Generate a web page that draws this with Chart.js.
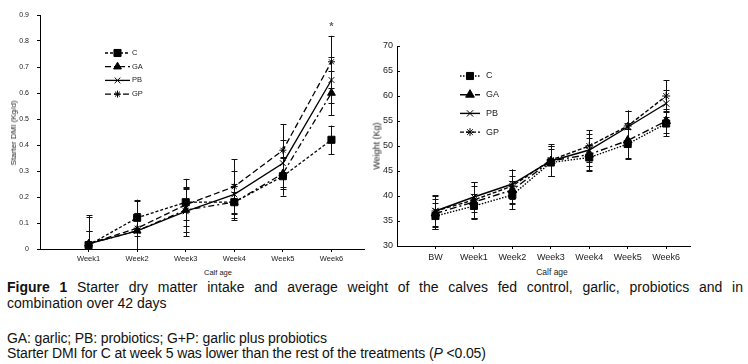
<!DOCTYPE html>
<html>
<head>
<meta charset="utf-8">
<script src="https://cdn.jsdelivr.net/npm/chart.js@4.4.1/dist/chart.umd.min.js"></script>
<style>
  body { margin: 0; background: #fff; width: 748px; height: 364px; overflow: hidden; position: relative;
         font-family: "Liberation Sans", Arial, sans-serif; color: #000; }
  canvas { position: absolute; top: 0; }
  #leftChart { left: 0; }
  #rightChart { left: 370px; }
  .axt { position: absolute; white-space: nowrap; color: #222; line-height: 1; }
  .rot { transform: translate(-50%, -50%) rotate(-90deg); }
  .hor { transform: translate(-50%, -50%); }
  .cap { position: absolute; left: 7px; width: 736px; font-size: 14px; white-space: nowrap; color: #111; }
  #cap1 { top: 279px; line-height: 16px; text-align: justify; text-align-last: justify; white-space: normal; }
  #cap2 { top: 295px; line-height: 16px; }
  #cap3 { top: 331px; line-height: 15px; letter-spacing: -0.12px; }
  #cap4 { top: 346px; line-height: 15px; letter-spacing: -0.12px; }
</style>
</head>
<body>
<canvas id="leftChart" width="370" height="262"></canvas>
<canvas id="rightChart" width="378" height="262"></canvas>

<div class="axt rot" style="left:14px; top:133px; font-size:8px;">Starter DMI (Kg/d)</div>
<div class="axt hor" style="left:218px; top:273px; font-size:7.5px;">Calf age</div>
<div class="axt rot" style="left:377px; top:146px; font-size:9px;">Weight (Kg)</div>
<div class="axt hor" style="left:552px; top:272px; font-size:8.5px;">Calf age</div>

<div class="cap" id="cap1"><b>Figure 1</b> Starter dry matter intake and average weight of the calves fed control, garlic, probiotics and in</div>
<div class="cap" id="cap2">combination over 42 days</div>
<div class="cap" id="cap3">GA: garlic; PB: probiotics; G+P: garlic plus probiotics</div>
<div class="cap" id="cap4">Starter DMI for C at week 5 was lower than the rest of the treatments (<i>P</i> &lt;0.05)</div>

<script>
// ---- data ----
const seriesNames = ['C', 'GA', 'PB', 'GP'];

// starter DMI (kg/d)
const dmiWeeks = ['Week1', 'Week2', 'Week3', 'Week4', 'Week5', 'Week6'];
const dmiC  = [0.015, 0.12, 0.18, 0.18, 0.28, 0.42];
const dmiGA = [0.02, 0.07, 0.15, 0.18, 0.29, 0.60];
const dmiPB = [0.02, 0.07, 0.145, 0.21, 0.33, 0.65];
const dmiGP = [0.02, 0.08, 0.17, 0.24, 0.38, 0.72];
const dmiErrC  = [0.055, 0.07, 0.09, 0.07, 0.075, 0.055];
const dmiErrGA = [0.105, 0.07, 0.085, 0.04, 0.06, 0.085];
const dmiErrPB = [0.05, 0.07, 0.095, 0.09, 0.09, 0.09];
const dmiErrGP = [0.11, 0.105, 0.06, 0.105, 0.1, 0.1];
const dmiTicks = [0, 0.1, 0.2, 0.3, 0.4, 0.5, 0.6, 0.7, 0.8, 0.9];
const dmiStar = { week: 6, value: 0.86, text: '*' };

// body weight (kg)
const wtWeeks = ['BW', 'Week1', 'Week2', 'Week3', 'Week4', 'Week5', 'Week6'];
const wtC  = [36, 38, 40.2, 46.7, 47.7, 50.4, 54.5];
const wtGA = [36.5, 38.8, 41.2, 47, 48.3, 51.1, 55];
const wtPB = [37, 39.8, 42.4, 47, 49.2, 53.8, 58.5];
const wtGP = [37, 39.2, 42, 47.2, 50, 54, 60];
const wtErrC  = [2.6, 2.5, 2.8, 2.7, 2.5, 3, 2.5];
const wtErrGA = [3, 3.2, 2.7, 3, 3.3, 3.5, 2.4];
const wtErrPB = [3.2, 3, 2.9, 3, 3.2, 3.3, 2.8];
const wtErrGP = [3, 3.6, 3.3, 3.2, 3.2, 3.1, 3.2];
const wtTicks = [30, 35, 40, 45, 50, 55, 60, 65, 70];

// ---- drawing helpers ----
const extras = {
  id: 'extras',
  beforeDatasetsDraw(chart, args, o) {
    const ctx = chart.ctx, xs = chart.scales.x, ys = chart.scales.y, a = chart.chartArea;
    ctx.save();
    ctx.beginPath();
    ctx.rect(a.left, a.top - 20, a.right - a.left, a.bottom - a.top + 20);
    ctx.clip();
    ctx.strokeStyle = '#111';
    ctx.lineWidth = 1;
    chart.data.datasets.forEach(ds => {
      ds.err.forEach((e, i) => {
        const v = ds.data[i].y;
        const x = Math.round(xs.getPixelForValue(ds.data[i].x)) + 0.5;
        const y1 = ys.getPixelForValue(v + e), y2 = ys.getPixelForValue(v - e);
        ctx.beginPath();
        ctx.moveTo(x, y1); ctx.lineTo(x, y2);
        ctx.moveTo(x - o.cap, Math.round(y1) + 0.5); ctx.lineTo(x + o.cap, Math.round(y1) + 0.5);
        ctx.moveTo(x - o.cap, Math.round(y2) + 0.5); ctx.lineTo(x + o.cap, Math.round(y2) + 0.5);
        ctx.stroke();
      });
    });
    ctx.restore();
    // inner tick marks on y axis
    if (o.innerTicks) {
      ctx.save();
      ctx.strokeStyle = '#000';
      ctx.lineWidth = 1;
      ys.ticks.forEach(t => {
        const y = Math.round(ys.getPixelForValue(t.value)) + 0.5;
        ctx.beginPath(); ctx.moveTo(a.left, y); ctx.lineTo(a.left + 3, y); ctx.stroke();
      });
      ctx.restore();
    }
  },
  afterDraw(chart, args, o) {
    const ctx = chart.ctx, L = o.legend;
    ctx.save();
    chart.data.datasets.forEach((ds, i) => {
      const y = L.y + i * L.gap;
      ctx.strokeStyle = '#000';
      ctx.fillStyle = '#000';
      ctx.lineWidth = ds.borderWidth;
      ctx.setLineDash(ds.borderDash || []);
      ctx.beginPath(); ctx.moveTo(L.x1, y); ctx.lineTo(L.x2, y); ctx.stroke();
      ctx.setLineDash([]);
      ctx.lineWidth = 1;
      Chart.helpers.drawPoint(ctx, { pointStyle: ds.pointStyle, radius: ds.pointRadius, rotation: 0, borderWidth: 1 },
        (L.x1 + L.x2) / 2, y);
      ctx.font = L.font + 'px "Liberation Sans", Arial, sans-serif';
      ctx.textBaseline = 'middle';
      ctx.fillStyle = '#222';
      ctx.fillText(ds.label, L.tx, y);
    });
    if (o.star) {
      const xs = chart.scales.x, ys = chart.scales.y;
      ctx.font = 'bold 11px "Liberation Sans", Arial, sans-serif';
      ctx.fillStyle = '#666';
      ctx.textAlign = 'center';
      ctx.textBaseline = 'middle';
      ctx.fillText(o.star.text, xs.getPixelForValue(o.star.week), ys.getPixelForValue(o.star.value) + 2);
    }
    ctx.restore();
  }
};

function makeDataset(label, vals, err, style) {
  return Object.assign({
    label: label,
    data: vals.map((v, i) => ({ x: i + 1, y: v })),
    err: err,
    borderColor: '#000',
    backgroundColor: '#000',
    pointBackgroundColor: '#000',
    pointBorderColor: '#000',
    pointBorderWidth: 1,
    fill: false,
    tension: 0
  }, style);
}

function makeChart(id, labels, datasets, y, layout, extra) {
  return new Chart(document.getElementById(id), {
    type: 'line',
    data: { datasets: datasets },
    options: {
      responsive: false,
      animation: false,
      layout: { padding: layout.padding },
      plugins: { legend: { display: false }, tooltip: { enabled: false }, extras: extra },
      scales: {
        x: {
          type: 'linear', min: 0, max: layout.xmax,
          afterBuildTicks: s => { s.ticks = labels.map((_, i) => ({ value: i + 1 })); },
          afterFit: s => { s.height = layout.xh; },
          ticks: { callback: v => labels[v - 1], autoSkip: false, maxRotation: 0, color: '#222',
                   font: { size: layout.xfont, family: '"Liberation Sans", Arial, sans-serif' }, padding: layout.xpad },
          grid: { drawOnChartArea: false, tickLength: 3, color: '#000' },
          border: { color: '#000', width: 1 }
        },
        y: {
          min: y.ticks[0], max: y.ticks[y.ticks.length - 1],
          afterBuildTicks: s => { s.ticks = y.ticks.map(v => ({ value: v })); },
          afterFit: s => { s.width = layout.yw; },
          ticks: { callback: v => String(v), color: '#222',
                   font: { size: layout.yfont, family: '"Liberation Sans", Arial, sans-serif' }, padding: layout.ypad },
          grid: { drawOnChartArea: false, tickLength: layout.ytick, color: '#000' },
          border: { color: '#000', width: 1 }
        }
      }
    },
    plugins: [extras]
  });
}

makeChart('leftChart', dmiWeeks, [
  makeDataset('C', dmiC, dmiErrC, { borderWidth: 1.3, borderDash: [3, 2], pointStyle: 'rect', pointRadius: 5 }),
  makeDataset('GA', dmiGA, dmiErrGA, { borderWidth: 1.3, borderDash: [6, 3, 2, 3], pointStyle: 'triangle', pointRadius: 4.5 }),
  makeDataset('PB', dmiPB, dmiErrPB, { borderWidth: 1.3, pointStyle: 'crossRot', pointRadius: 4 }),
  makeDataset('GP', dmiGP, dmiErrGP, { borderWidth: 1.3, borderDash: [6, 3], pointStyle: 'star', pointRadius: 3.5 })
], { ticks: dmiTicks },
{ padding: { left: 0, top: 15, right: 5, bottom: 0 }, xmax: 6.67, xh: 13, xfont: 7.5, xpad: 2, yw: 40, yfont: 7, ypad: 8, ytick: 3 },
{ cap: 3, innerTicks: false, star: dmiStar, legend: { x1: 105, x2: 130, tx: 132, y: 53, gap: 13.7, font: 7.5 } });

makeChart('rightChart', wtWeeks, [
  makeDataset('C', wtC, wtErrC, { borderWidth: 1.4, borderDash: [1.5, 1.5], pointStyle: 'rect', pointRadius: 5 }),
  makeDataset('GA', wtGA, wtErrGA, { borderWidth: 1.4, borderDash: [7, 3, 2, 3], pointStyle: 'triangle', pointRadius: 5 }),
  makeDataset('PB', wtPB, wtErrPB, { borderWidth: 1.4, pointStyle: 'crossRot', pointRadius: 4.5 }),
  makeDataset('GP', wtGP, wtErrGP, { borderWidth: 1.4, borderDash: [4, 2], pointStyle: 'star', pointRadius: 4 })
], { ticks: wtTicks },
{ padding: { left: 0, top: 46, right: 58, bottom: 0 }, xmax: 7.62, xh: 16, xfont: 9, xpad: 3, yw: 27, yfont: 9, ypad: 4, ytick: 0 },
{ cap: 3, innerTicks: true, legend: { x1: 90, x2: 110, tx: 116, y: 76, gap: 18.7, font: 9 } });
</script>
</body>
</html>
